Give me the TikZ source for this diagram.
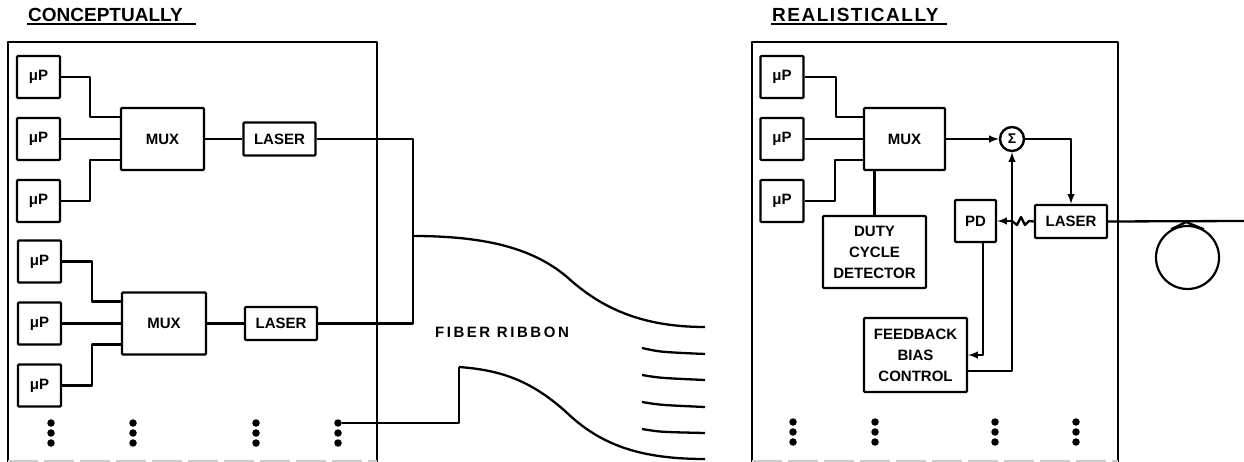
\documentclass[tikz,border=0pt]{standalone}
\usepackage{fontspec}
\setmainfont{Liberation Sans}
\usetikzlibrary{positioning}

\tikzset{
  wire/.style={line width=2.3pt,line join=round},
  frameline/.style={line width=2.6pt,line join=round},
  boxed/.style={draw,line width=2.4pt,rounded corners=1pt,inner sep=0pt,align=center,font=\fontsize{15}{21}\selectfont\bfseries},
  micro/.style={boxed,minimum width=43pt,minimum height=42pt},
  mux/.style={boxed,minimum width=83pt,minimum height=62pt},
  laser/.style={boxed,minimum width=72pt,minimum height=33pt},
  heading/.style={anchor=west,inner sep=1pt,font=\fontsize{19}{21}\selectfont\bfseries},
  dotmark/.style={circle,fill,inner sep=0pt,minimum size=7.5pt},
}

\begin{document}
\begin{tikzpicture}[x=1pt,y=-1pt,node distance=62pt,on grid]
   \useasboundingbox (0,0) rectangle (1244,462);

   % headings
   \node[heading,text width=167pt] (title_a) at (27,15) {CONCEPTUALLY};
   \node[heading,text width=174pt] (title_b) at (771,15) {\addfontfeature{LetterSpace=8}REALISTICALLY};
   \draw[wire] ([yshift=-1pt]title_a.south west) -- ([yshift=-1pt]title_a.south east);
   \draw[wire] ([yshift=-1pt]title_b.south west) -- ([yshift=-1pt]title_b.south east);

   % panels, open at the bottom
   \coordinate (panel_a1) at (8,462);
   \coordinate (panel_a2) at (377,42);
   \coordinate (panel_a3) at (377,462);
   \coordinate (panel_b1) at (752,462);
   \coordinate (panel_b2) at (1118,42);
   \coordinate (panel_b3) at (1118,462);
   \draw[frameline] (panel_a1) |- (panel_a2) -- (panel_a3);
   \draw[frameline] (panel_b1) |- (panel_b2) -- (panel_b3);
   \draw[line width=1.2pt,gray!40,dash pattern=on 30pt off 6pt] ([yshift=1pt]panel_a1) -- ([yshift=1pt]panel_a3);
   \draw[line width=1.2pt,gray!40,dash pattern=on 30pt off 6pt] ([yshift=1pt]panel_b1) -- ([yshift=1pt]panel_b3);

   % left panel, upper group
   \node[micro] (mp_a1) at (38.5,77) {μP};
   \node[micro] (mp_a2) [below=of mp_a1] {μP};
   \node[micro] (mp_a3) [below=of mp_a2] {μP};
   \node[mux] (mux_a) at (162.5,139) {MUX};
   \node[laser] (las_a) at (279.5,139) {LASER};

   % left panel, lower group
   \node[micro] (mp_b1) at (39.5,261.5) {μP};
   \node[micro] (mp_b2) [below=of mp_b1] {μP};
   \node[micro] (mp_b3) [below=of mp_b2] {μP};
   \node[mux,minimum width=84pt] (mux_b) at (164,323.5) {MUX};
   \node[laser] (las_b) at (281,323.5) {LASER};

   % right panel
   \node[micro] (mp_c1) at (782,77) {μP};
   \node[micro] (mp_c2) [below=of mp_c1] {μP};
   \node[micro] (mp_c3) [below=of mp_c2] {μP};
   \node[mux,minimum width=81pt] (mux_c) at (904.5,139) {MUX};
   \node[circle,draw,line width=2.4pt,inner sep=0pt,minimum size=24pt,font=\fontsize{14}{14}\selectfont\bfseries] (sum) at (1012,139) {Σ};
   \node[laser] (las_c) at (1071,221.5) {LASER};
   \node[boxed,minimum width=41pt,minimum height=42pt] (pd) at (975.5,221) {PD};
   \node[boxed,minimum width=103pt,minimum height=72pt] (duty) at (874.5,252) {DUTY\\CYCLE\\DETECTOR};
   \node[boxed,minimum width=103pt,minimum height=74pt] (bias) at (915.5,355) {FEEDBACK\\BIAS\\CONTROL};

   % dots
   \foreach \x/\n in {51/a,133/b,256/c,338/d}
      \foreach \y/\m in {423/1,433/2,443/3}
         \node[dotmark] (dot_\n\m) at (\x,\y) {};
   \foreach \x/\n in {793/e,875/f,995/g,1076/h}
      \foreach \y/\m in {422/1,432/2,442/3}
         \node[dotmark] (dot_\n\m) at (\x,\y) {};

   % left panel wiring
   \draw[wire] (mp_a1.east) -- ++(29,0) |- ([yshift=22pt]mux_a.west);
   \draw[wire] (mp_a2.east) -- (mux_a.west);
   \draw[wire] (mp_a3.east) -- ++(29,0) |- ([yshift=-21pt]mux_a.west);
   \draw[wire] (mux_a.east) -- (las_a.west);
   \draw[wire] (mp_b1.east) -- ++(30,0) |- ([yshift=22pt]mux_b.west);
   \draw[wire] (mp_b2.east) -- (mux_b.west);
   \draw[wire] (mp_b3.east) -- ++(30,0) |- ([yshift=-21pt]mux_b.west);
   \draw[wire] (mux_b.east) -- (las_b.west);

   % fiber ribbon
   \coordinate (join_a) at (413,236);
   \coordinate (ribbon_a) at (705,327);
   \coordinate (join_b) at (459,367);
   \coordinate (ribbon_b) at (705,459);
   \draw[wire] (las_a.east) -| (join_a);
   \draw[wire] (las_b.east) -| (join_a);
   \draw[wire] (join_a) .. controls (490,236) and (535,250) .. (567,277)
                        .. controls (600,307) and (640,327) .. (ribbon_a);
   \draw[wire] (dot_d1.east) -| (join_b);
   \draw[wire] (join_b) .. controls (500,370) and (530,380) .. (565,411)
                        .. controls (600,445) and (640,459) .. (ribbon_b);
   \coordinate (fib_1a) at (642,348); \coordinate (fib_1b) at (705,354);
   \coordinate (fib_2a) at (642,375); \coordinate (fib_2b) at (705,380);
   \coordinate (fib_3a) at (642,402); \coordinate (fib_3b) at (705,407);
   \coordinate (fib_4a) at (642,429); \coordinate (fib_4b) at (705,433);
   \draw[wire] (fib_1a) .. controls (660,352) .. (fib_1b);
   \draw[wire] (fib_2a) .. controls (660,378) .. (fib_2b);
   \draw[wire] (fib_3a) .. controls (660,405) .. (fib_3b);
   \draw[wire] (fib_4a) .. controls (660,432) .. (fib_4b);
   \node[font=\fontsize{15}{15}\selectfont\bfseries\addfontfeature{LetterSpace=17},inner sep=0pt] (ribbon) at (502,332) {FIBER RIBBON};

   % right panel wiring
   \draw[wire] (mp_c1.east) -- ++(31,0) |- ([yshift=22pt]mux_c.west);
   \draw[wire] (mp_c2.east) -- (mux_c.west);
   \draw[wire] (mp_c3.east) -- ++(30,0) |- ([yshift=-21pt]mux_c.west);
   \draw[wire] (mux_c.south -| duty.north) -- (duty.north);
   \draw[wire,-latex] (mux_c.east) -- (sum.west);
   \draw[wire,-latex] (sum.east) -| (las_c.north);
   \draw[wire,-latex] ([yshift=-16pt]bias.east) -| (sum.south);
   \draw[wire,-latex] ([xshift=7.5pt]pd.south) |- (bias.east);

   % laser light to the photodiode
   \coordinate (wave_a) at (1029,221);
   \coordinate (wave_b) at (1012,221);
   \draw[wire] (las_c.west) -- (wave_a) -- (1025,225) -- (1021,217) -- (1017,225) -- (wave_b);
   \draw[wire,-latex] (wave_b) -- (pd.east |- wave_b);

   % output fiber with its loop
   \coordinate (out) at (1244,221);
   \coordinate (cusp) at (1186,222);
   \draw[wire] (las_c.east) -- (out);
   \node[circle,draw,line width=2.2pt,inner sep=0pt,minimum size=63pt] (coil) at (1187.5,257.5) {};
   \draw[wire] (coil.120) -- (cusp) -- (coil.60);
\end{tikzpicture}
\end{document}
